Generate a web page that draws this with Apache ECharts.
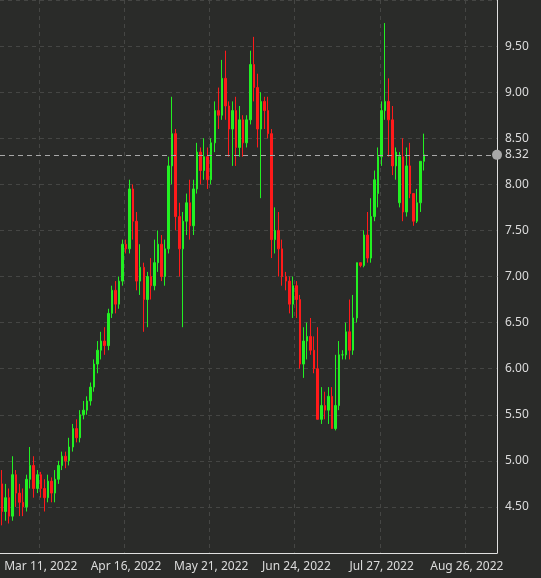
<!DOCTYPE html>
<html><head><meta charset="utf-8">
<script src="https://cdn.jsdelivr.net/npm/echarts@6/dist/echarts.min.js"></script>
<style>html,body{margin:0;padding:0;background:#2a2b29}#c{width:541px;height:578px}</style>
</head><body><div id="c"></div>
<script>
const TOTAL_SLOTS = 140;
const tickIndex = [11, 35, 59, 83, 107, 131];
const tickLabels = ["Mar 11, 2022", "Apr 16, 2022", "May 21, 2022", "Jun 24, 2022", "Jul 27, 2022", "Aug 26, 2022"];
const lastPrice = 8.32;
// [open, close, low, high]
const ohlc = [
[4.75,4.45,4.30,4.90],[4.45,4.60,4.35,4.75],[4.60,4.40,4.32,4.70],[4.40,4.85,4.35,5.05],
[4.85,4.65,4.50,4.90],[4.65,4.55,4.40,4.75],[4.55,4.50,4.40,4.70],[4.50,4.80,4.45,4.85],
[4.80,4.95,4.70,5.15],[4.95,4.70,4.60,5.05],[4.70,4.85,4.65,4.90],[4.85,4.70,4.60,4.88],
[4.70,4.60,4.45,4.80],[4.60,4.78,4.55,4.85],[4.78,4.65,4.55,4.82],[4.65,4.80,4.55,4.90],
[4.80,4.95,4.75,5.00],[4.95,5.05,4.90,5.10],[5.05,5.00,4.92,5.10],[5.00,5.15,4.95,5.25],
[5.15,5.35,5.10,5.40],[5.35,5.25,5.20,5.45],[5.25,5.50,5.20,5.55],[5.50,5.55,5.45,5.65],
[5.55,5.65,5.50,5.70],[5.65,5.80,5.60,5.85],[5.80,6.05,5.75,6.10],[6.05,6.20,5.95,6.30],
[6.20,6.30,6.10,6.40],[6.30,6.25,6.15,6.45],[6.25,6.60,6.20,6.65],[6.60,6.85,6.55,6.90],
[6.85,6.70,6.60,6.95],[6.70,6.95,6.65,7.00],[6.95,7.35,6.90,7.40],[7.35,7.30,7.25,7.40],
[7.30,7.95,7.25,8.05],[7.95,7.60,7.40,8.00],[7.60,6.95,6.85,7.70],[6.95,7.10,6.80,7.35],
[7.10,6.75,6.40,7.15],[6.75,7.00,6.45,7.05],[7.00,6.90,6.75,7.20],[6.90,7.15,6.85,7.40],
[7.15,7.35,7.05,7.50],[7.35,7.00,6.95,7.45],[7.00,7.30,6.90,7.40],[7.30,8.20,7.25,8.30],
[8.20,8.55,8.00,8.95],[8.55,7.65,7.50,8.60],[7.65,7.30,7.00,7.80],[7.30,7.60,6.45,7.70],
[7.60,7.80,7.45,7.90],[7.80,7.55,7.40,8.05],[7.55,7.95,7.45,8.05],[7.95,8.35,7.90,8.45],
[8.35,8.15,8.00,8.40],[8.15,8.30,8.05,8.50],[8.30,8.05,7.95,8.40],[8.05,8.45,8.00,8.50],
[8.45,8.80,8.35,8.90],[8.80,8.75,8.60,9.05],[8.75,9.15,8.70,9.35],[9.15,8.85,8.70,9.45],
[8.85,8.60,8.30,8.90],[8.60,8.80,8.20,8.90],[8.80,8.40,8.20,8.95],[8.40,8.70,8.30,8.85],
[8.70,8.45,8.30,8.75],[8.45,8.70,8.40,8.75],[8.70,9.30,8.65,9.45],[9.30,9.05,8.90,9.60],
[9.05,8.60,8.40,9.20],[8.60,8.90,7.85,9.00],[8.90,8.80,8.60,8.95],[8.80,8.55,8.50,8.95],
[8.55,7.40,7.20,8.60],[7.40,7.50,7.25,7.75],[7.50,7.30,7.00,7.70],[7.30,7.00,6.90,7.40],
[7.00,6.95,6.85,7.05],[6.95,6.70,6.60,7.00],[6.70,6.90,6.55,7.00],[6.90,6.75,6.55,6.95],
[6.75,6.05,6.00,6.80],[6.05,6.30,5.90,6.45],[6.30,6.35,6.10,6.50],[6.35,6.20,6.15,6.55],
[6.20,6.00,5.95,6.35],[6.00,5.45,5.45,6.45],[5.45,5.60,5.40,5.80],[5.60,5.55,5.45,5.75],
[5.55,5.70,5.40,5.80],[5.70,5.35,5.35,5.80],[5.35,5.60,5.33,6.15],[5.60,6.15,5.55,6.30],
[6.15,6.15,6.10,6.20],[6.15,6.40,6.10,6.50],[6.40,6.20,6.10,6.75],[6.20,6.55,6.15,6.80],
[6.55,7.15,6.50,7.15],[7.15,7.12,7.10,7.15],[7.12,7.45,7.10,7.50],[7.45,7.20,7.15,7.70],
[7.20,7.65,7.15,7.85],[7.65,8.05,7.60,8.15],[7.90,8.30,7.75,8.40],[8.30,8.80,8.20,8.90],
[8.80,8.90,8.70,9.75],[8.90,8.70,8.30,9.15],[8.70,8.20,8.10,8.85],[8.20,8.35,8.05,8.40],
[7.80,8.30,7.75,8.35],[8.30,7.70,7.60,8.50],[7.70,8.20,7.65,8.40],[8.20,7.90,7.85,8.45],
[7.90,7.60,7.55,7.90],[7.60,7.80,7.58,7.95],[7.80,8.25,7.70,8.25],[8.25,8.32,8.15,8.55]
];
const cats = [];
for (let i = 0; i < TOTAL_SLOTS; i++) { const k = tickIndex.indexOf(i); cats.push(k >= 0 ? tickLabels[k] : 'd' + i); }
const chart = echarts.init(document.getElementById('c'));
chart.setOption({
  backgroundColor: '#2a2b29',
  animation: false,
  grid: { left: 0, right: 44, top: 0, bottom: 25 },
  xAxis: {
    type: 'category', data: cats, boundaryGap: true,
    axisLine: { lineStyle: { color: '#e0e0e0' } },
    axisTick: { alignWithLabel: true, interval: (i) => tickIndex.includes(i), lineStyle: { color: '#e0e0e0' }, length: 4 },
    axisLabel: { interval: (i) => tickIndex.includes(i), color: '#dcdcdc', fontSize: 12, fontFamily: 'Noto Sans', margin: 8 },
    splitLine: { show: true, interval: (i) => tickIndex.includes(i), lineStyle: { color: '#454644', type: [4, 4] } }
  },
  yAxis: {
    type: 'value', position: 'right', min: 4, max: 10, interval: 0.5,
    axisLine: { show: true, lineStyle: { color: '#e0e0e0' } },
    axisTick: { show: false },
    axisLabel: { showMinLabel: false, showMaxLabel: false, color: '#dcdcdc', fontSize: 12, fontFamily: 'Noto Sans', margin: 8, formatter: v => v.toFixed(2) },
    splitLine: { lineStyle: { color: '#454644', type: [4, 4] } }
  },
  series: [{
    type: 'candlestick', data: ohlc, barWidth: 2,
    itemStyle: { color: '#22f022', color0: '#ff1a1a', borderColor: '#22f022', borderColor0: '#ff1a1a', borderWidth: 1 },
    markLine: {
      silent: true, symbol: ['none', 'circle'], symbolSize: 10,
      lineStyle: { color: '#a8a8a8', type: [5, 4], width: 1 },
      label: { position: 'end', color: '#dcdcdc', fontSize: 12, fontFamily: 'Noto Sans', distance: 8, formatter: () => lastPrice.toFixed(2) },
      data: [{ yAxis: lastPrice, itemStyle: { color: '#8a8a8a' } }]
    }
  }]
});
</script></body></html>
